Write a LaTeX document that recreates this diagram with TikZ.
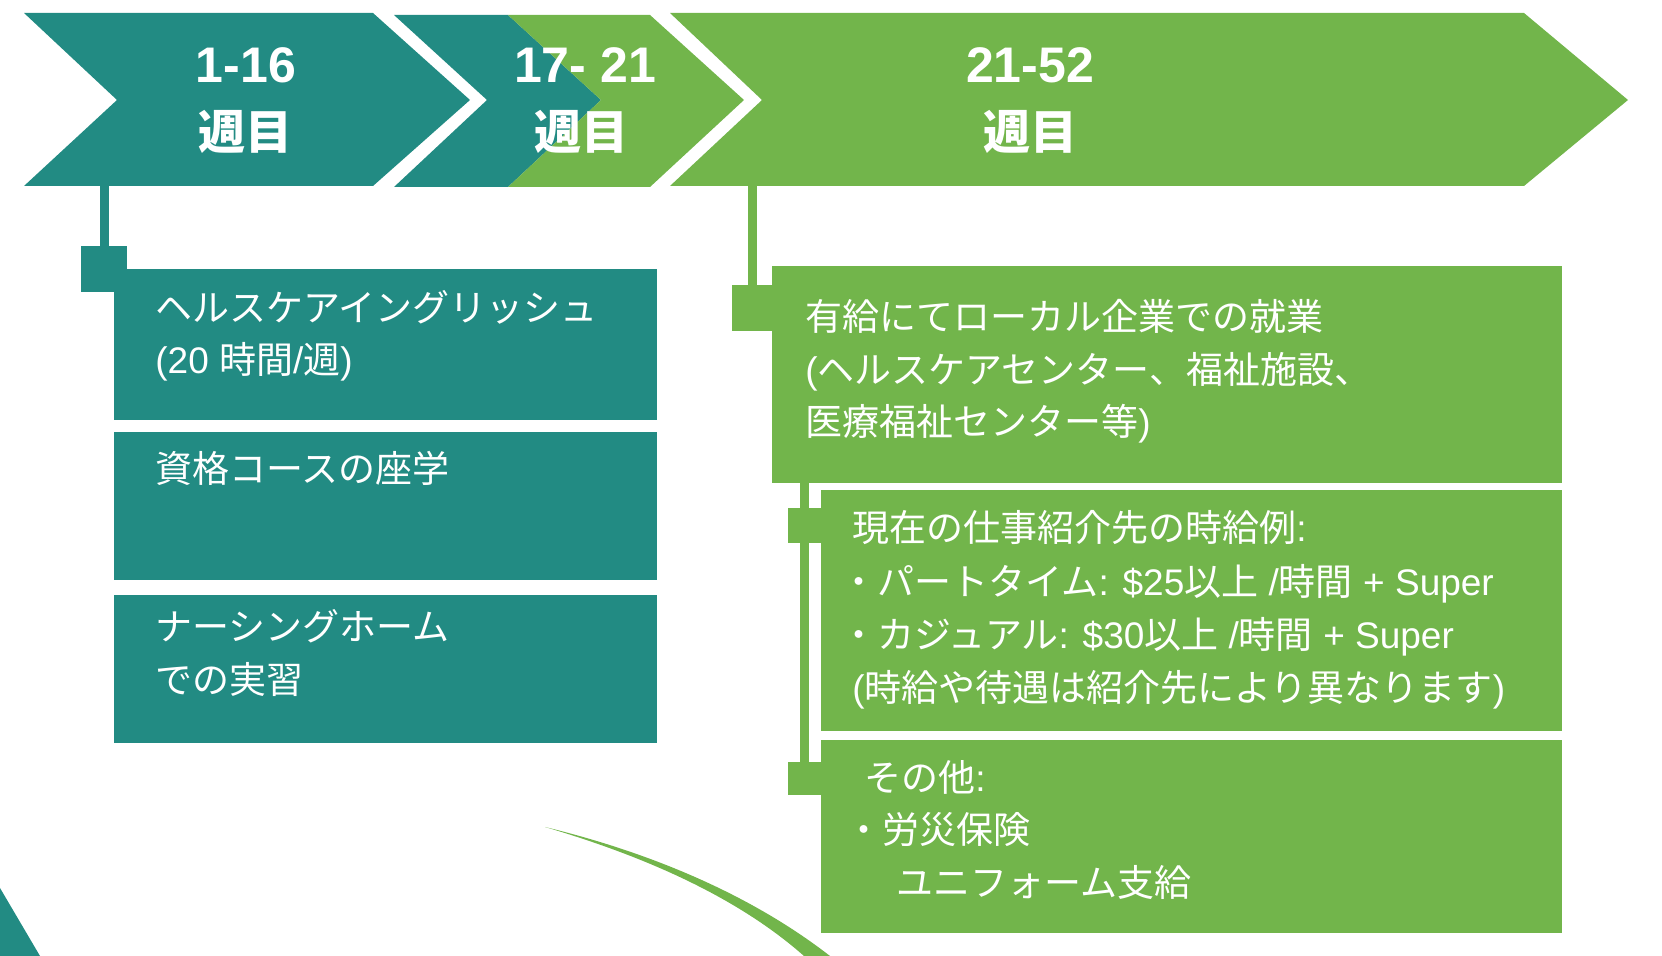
\documentclass[tikz,border=0pt]{standalone}
\usepackage{fontspec}
\setmainfont{Noto Sans CJK JP}
\newfontfamily\titlelat{Liberation Sans}
\newcommand\lt[1]{{\titlelat #1}}
\definecolor{tealc}{HTML}{228B83}
\definecolor{greenc}{HTML}{72B54B}
\def\px{0.5pt}
\begin{document}
\begin{tikzpicture}[x=0.5pt,y=-0.5pt,
  box/.style={rectangle, inner sep=0pt, outer sep=0pt, draw=none, anchor=north west},
  tealbox/.style={box, fill=tealc},
  greenbox/.style={box, fill=greenc},
  sq/.style={rectangle, inner sep=0pt, outer sep=0pt, draw=none},
  body/.style={text=white, font=\fontsize{18.5pt}{26pt}\selectfont, inner sep=0pt, anchor=base west},
  ttl/.style={text=white, font=\fontsize{25pt}{30pt}\titlelat\bfseries, inner sep=0pt, anchor=base},
  ttlcjk/.style={text=white, font=\fontsize{23.5pt}{28pt}\selectfont\bfseries, inner sep=0pt, anchor=base},
  conn/.style={line width=4.5pt}
]
\useasboundingbox (0,0) rectangle (1662,956);

% decorative shapes
\fill[tealc] (0,888) -- (40,956) -- (0,956) -- cycle;
\fill[greenc] (545,827) .. controls (640,850) and (745,890) .. (830,956)
  -- (804,956) .. controls (735,895) and (640,855) .. (545,827) -- cycle;

% chevrons
\fill[tealc] (24,13) -- (373,13) -- (470,100) -- (373,186) -- (24,186) -- (117,100) -- cycle;
\fill[tealc] (394,15) -- (508,15) -- (601,100) -- (508,187) -- (394,187) -- (487,100) -- cycle;
\fill[greenc] (508,15) -- (650,15) -- (744,100) -- (650,187) -- (508,187) -- (601,100) -- cycle;
\fill[greenc] (670,13) -- (1524,13) -- (1628,100) -- (1524,186) -- (670,186) -- (762,100) -- cycle;

\coordinate (c1) at (104,186);
\coordinate (c2) at (752,186);

% titles
\node[ttl] (h1) at (246,83) {1-16};
\node[ttlcjk] (w1) at (245,150) {週目};
\node[ttl] (h2) at (585,83) {17- 21};
\node[ttlcjk] (w2) at (581,150) {週目};
\node[ttl] (h3) at (1030,83) {21-52};
\node[ttlcjk] (w3) at (1030,150) {週目};

% connector squares
\node[sq, fill=tealc, minimum width=46*\px, minimum height=46*\px] (sq1) at (104,269) {};
\node[sq, fill=greenc, minimum width=41*\px, minimum height=46*\px] (sq2) at (752,308) {};
\node[sq, fill=greenc, minimum width=33*\px, minimum height=35*\px] (sq3) at (804.5,525.5) {};
\node[sq, fill=greenc, minimum width=33*\px, minimum height=33*\px] (sq4) at (804.5,778.5) {};

% boxes
\node[tealbox, minimum width=543*\px, minimum height=151*\px] (b1) at (114,269) {};
\node[tealbox, minimum width=543*\px, minimum height=148*\px] (b2) at (114,432) {};
\node[tealbox, minimum width=543*\px, minimum height=148*\px] (b3) at (114,595) {};
\node[greenbox, minimum width=790*\px, minimum height=217*\px] (b4) at (772,266) {};
\node[greenbox, minimum width=741*\px, minimum height=241*\px] (b5) at (821,490) {};
\node[greenbox, minimum width=741*\px, minimum height=193*\px] (b6) at (821,740) {};

\coordinate (c3) at (804.5,483);

% connectors
\draw[conn, tealc] (c1) -- (sq1.north);
\draw[conn, greenc] (c2) -- (sq2.north);
\draw[conn, greenc] (c3) -- (sq4.north);

% texts
\node[body] (t1a) at (155,322) {ヘルスケアイングリッシュ};
\node[body] (t1b) at (155,374) {\lt{(20 }時間\lt{/}週\lt{)}};
\node[body] (t2) at (155,483) {資格コースの座学};
\node[body] (t3a) at (155,641) {ナーシングホーム};
\node[body] (t3b) at (155,694) {での実習};
\node[body] (t4a) at (805,331) {有給にてローカル企業での就業};
\node[body] (t4b) at (805,384) {\lt{(}ヘルスケアセンター、福祉施設、};
\node[body] (t4c) at (805,436) {医療福祉センター等\lt{)}};
\node[body] (t5a) at (852,542) {現在の仕事紹介先の時給例\lt{:}};
\node[body] (t5b) at (840,596) {・パートタイム\lt{: \$25}以上\lt{ /}時間\lt{ + Super}};
\node[body] (t5c) at (840,649) {・カジュアル\lt{: \$30}以上\lt{ /}時間\lt{ + Super}};
\node[body] (t5d) at (852,702) {\lt{(}時給や待遇は紹介先により異なります\lt{)}};
\node[body] (t6a) at (864,792) {その他\lt{:}};
\node[body] (t6b) at (845,844) {・労災保険};
\node[body] (t6c) at (896,897) {ユニフォーム支給};
\end{tikzpicture}
\end{document}
